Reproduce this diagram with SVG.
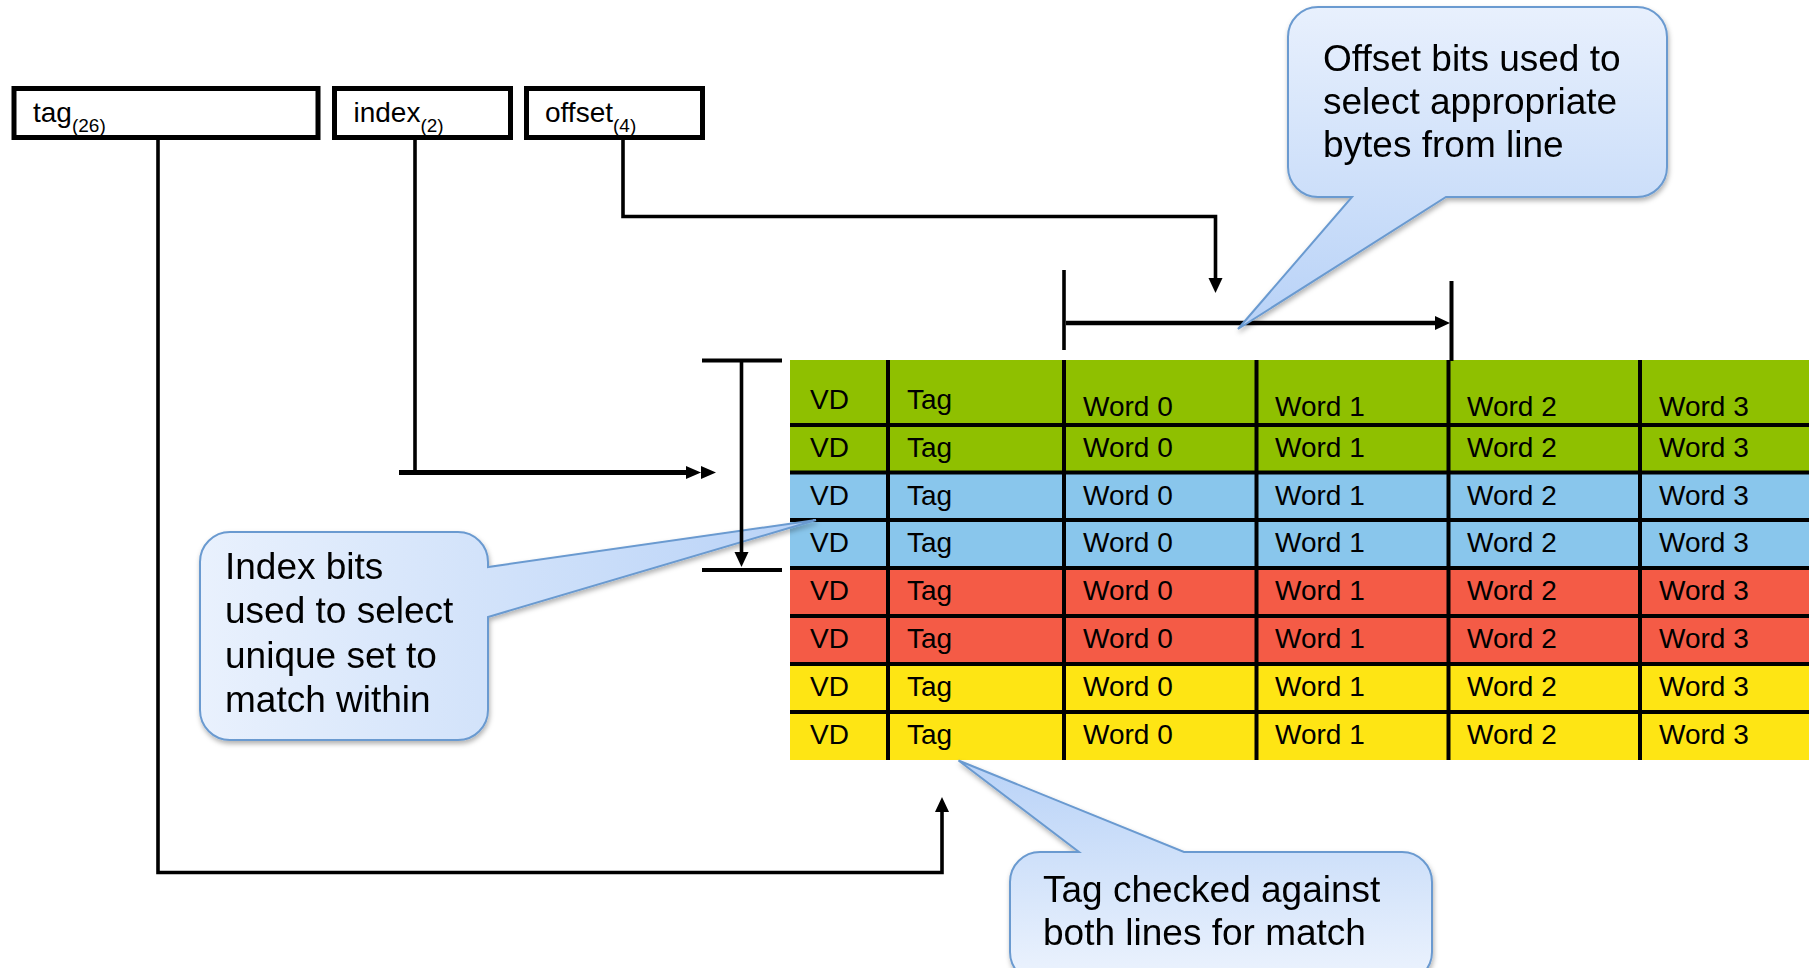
<svg xmlns="http://www.w3.org/2000/svg" width="1809" height="968" viewBox="0 0 1809 968">
<style>
.box{fill:#fff;stroke:#000;stroke-width:5}
.bt{font-family:"Liberation Sans",Arial,sans-serif;font-size:28px;fill:#000}
.sub{font-size:19px}
.ct{font-family:"Liberation Sans",Arial,sans-serif;font-size:28px;fill:#000}
.grid{stroke:#000;stroke-width:4;fill:none}
.ln{stroke:#000;stroke-width:3.6;fill:none}
.bub{stroke:#6a9ad0;stroke-width:2}
.cap{font-family:"Liberation Sans",Arial,sans-serif;font-size:37px;fill:#000}
</style>
<defs>
<marker id="ah" markerUnits="userSpaceOnUse" markerWidth="16" markerHeight="15" refX="1" refY="7" orient="auto">
<path d="M0,0 L15,7 L0,14 Z" fill="#000"/>
</marker>
<marker id="ah2" markerUnits="userSpaceOnUse" markerWidth="31" markerHeight="14" refX="1" refY="6.5" orient="auto">
<path d="M0,0 L15,6.5 L0,13 Z M15,0 L30,6.5 L15,13 Z" fill="#000"/>
</marker>
<linearGradient id="gOff" gradientUnits="userSpaceOnUse" x1="0" y1="7" x2="0" y2="329">
<stop offset="0" stop-color="#e8f0fd"/><stop offset="1" stop-color="#b8d2f7"/>
</linearGradient>
<linearGradient id="gIdx" gradientUnits="userSpaceOnUse" x1="200" y1="0" x2="816" y2="0">
<stop offset="0" stop-color="#e9f1fd"/><stop offset="1" stop-color="#b8d2f7"/>
</linearGradient>
<linearGradient id="gTag" gradientUnits="userSpaceOnUse" x1="0" y1="968" x2="0" y2="760">
<stop offset="0" stop-color="#e9f1fd"/><stop offset="1" stop-color="#b8d2f7"/>
</linearGradient>
<filter id="sh" x="-10%" y="-10%" width="130%" height="130%">
<feDropShadow dx="1" dy="3" stdDeviation="2.5" flood-color="#000" flood-opacity="0.3"/>
</filter>
</defs>
<rect width="1809" height="968" fill="#fff"/>

<g id="addr-tag">
<rect class="box" x="14" y="88.5" width="304" height="49"/>
<text class="bt" x="33" y="122">tag<tspan class="sub" dy="9.5">(26)</tspan></text>
</g>
<g id="addr-index">
<rect class="box" x="334.5" y="88.5" width="176" height="49"/>
<text class="bt" x="353.5" y="122">index<tspan class="sub" dy="9.5">(2)</tspan></text>
</g>
<g id="addr-offset">
<rect class="box" x="526.5" y="88.5" width="176" height="49"/>
<text class="bt" x="545" y="122">offset<tspan class="sub" dy="9.5">(4)</tspan></text>
</g>

<g id="cache-table">
<rect x="790" y="360" width="1019" height="65" fill="#8fc000"/>
<rect x="790" y="425" width="1019" height="47.5" fill="#8fc000"/>
<rect x="790" y="472.5" width="1019" height="47.5" fill="#89c6ec"/>
<rect x="790" y="520" width="1019" height="48" fill="#89c6ec"/>
<rect x="790" y="568" width="1019" height="48" fill="#f45b46"/>
<rect x="790" y="616" width="1019" height="48" fill="#f45b46"/>
<rect x="790" y="664" width="1019" height="48" fill="#fee514"/>
<rect x="790" y="712" width="1019" height="48" fill="#fee514"/>
<path class="grid" d="M790,425 H1809 M790,472.5 H1809 M790,520 H1809 M790,568 H1809 M790,616 H1809 M790,664 H1809 M790,712 H1809"/>
<path class="grid" d="M888,360 V760 M1064,360 V760 M1256.5,360 V760 M1448.5,360 V760 M1640,360 V760"/>
<g class="ct">
<text x="810" y="409">VD</text><text x="907" y="409">Tag</text><text x="1083" y="416">Word 0</text><text x="1275" y="416">Word 1</text><text x="1467" y="416">Word 2</text><text x="1659" y="416">Word 3</text>
<text x="810" y="457">VD</text><text x="907" y="457">Tag</text><text x="1083" y="457">Word 0</text><text x="1275" y="457">Word 1</text><text x="1467" y="457">Word 2</text><text x="1659" y="457">Word 3</text>
<text x="810" y="504.5">VD</text><text x="907" y="504.5">Tag</text><text x="1083" y="504.5">Word 0</text><text x="1275" y="504.5">Word 1</text><text x="1467" y="504.5">Word 2</text><text x="1659" y="504.5">Word 3</text>
<text x="810" y="552">VD</text><text x="907" y="552">Tag</text><text x="1083" y="552">Word 0</text><text x="1275" y="552">Word 1</text><text x="1467" y="552">Word 2</text><text x="1659" y="552">Word 3</text>
<text x="810" y="600">VD</text><text x="907" y="600">Tag</text><text x="1083" y="600">Word 0</text><text x="1275" y="600">Word 1</text><text x="1467" y="600">Word 2</text><text x="1659" y="600">Word 3</text>
<text x="810" y="648">VD</text><text x="907" y="648">Tag</text><text x="1083" y="648">Word 0</text><text x="1275" y="648">Word 1</text><text x="1467" y="648">Word 2</text><text x="1659" y="648">Word 3</text>
<text x="810" y="696">VD</text><text x="907" y="696">Tag</text><text x="1083" y="696">Word 0</text><text x="1275" y="696">Word 1</text><text x="1467" y="696">Word 2</text><text x="1659" y="696">Word 3</text>
<text x="810" y="744">VD</text><text x="907" y="744">Tag</text><text x="1083" y="744">Word 0</text><text x="1275" y="744">Word 1</text><text x="1467" y="744">Word 2</text><text x="1659" y="744">Word 3</text>
</g>
</g>

<g id="callout-index" filter="url(#sh)">
<path class="bub" fill="url(#gIdx)" d="M230,532 H458 A30,30 0 0 1 488,562 V567 L816,520 L488,617 V710 A30,30 0 0 1 458,740 H230 A30,30 0 0 1 200,710 V562 A30,30 0 0 1 230,532 Z"/>
<text class="cap" x="225" y="578.5">Index bits</text>
<text class="cap" x="225" y="623">used to select</text>
<text class="cap" x="225" y="667.5">unique set to</text>
<text class="cap" x="225" y="712">match within</text>
</g>

<g id="connectors">
<path class="ln" d="M158,140 V872.5 H942 V811" marker-end="url(#ah)"/>
<path class="ln" d="M415,140 V472.5"/>
<path class="ln" style="stroke-width:5" d="M399,472.5 H687" marker-end="url(#ah2)"/>
<path class="ln" d="M623,140 V216.5 H1215.5 V279" marker-end="url(#ah)"/>
<path class="ln" d="M1064,270 V350"/>
<path class="ln" style="stroke-width:4" d="M1451.5,281 V361"/>
<path class="ln" style="stroke-width:4.5" d="M1066,323 H1436" marker-end="url(#ah)"/>
<path class="ln" style="stroke-width:4" d="M702,360.5 H782 M702,570 H782"/>
<path class="ln" d="M741.5,360.5 V553" marker-end="url(#ah)"/>
</g>

<g id="callout-offset" filter="url(#sh)">
<path class="bub" fill="url(#gOff)" d="M1318,7 H1637 A30,30 0 0 1 1667,37 V167 A30,30 0 0 1 1637,197 H1446 L1238,329 L1352,197 H1318 A30,30 0 0 1 1288,167 V37 A30,30 0 0 1 1318,7 Z"/>
<text class="cap" x="1323" y="71">Offset bits used to</text>
<text class="cap" x="1323" y="114">select appropriate</text>
<text class="cap" x="1323" y="157">bytes from line</text>
</g>

<g id="callout-tag" filter="url(#sh)">
<path class="bub" fill="url(#gTag)" d="M1040,852 H1079 L958.5,760.5 L1184,852 H1402 A30,30 0 0 1 1432,882 V952 A30,30 0 0 1 1402,982 H1040 A30,30 0 0 1 1010,952 V882 A30,30 0 0 1 1040,852 Z"/>
<text class="cap" x="1043" y="902">Tag checked against</text>
<text class="cap" x="1043" y="945">both lines for match</text>
</g>
</svg>
